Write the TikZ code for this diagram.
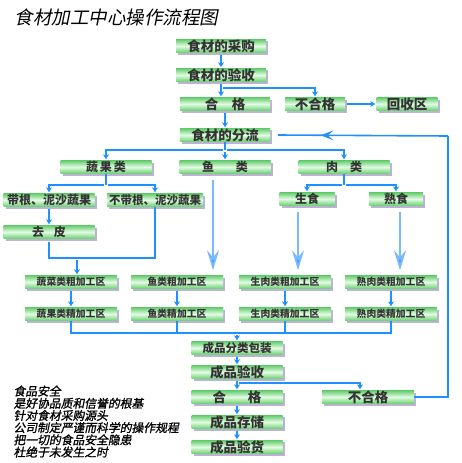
\documentclass[tikz,border=0pt]{standalone}
\usepackage{fontspec}
\setmainfont{Noto Sans CJK SC}
\newfontfamily\slantfont{Noto Sans CJK SC}[FakeSlant=0.2]
\newfontfamily\notefont{Noto Sans CJK SC}[FakeSlant=0.2, FakeBold=1.2]
\usetikzlibrary{arrows.meta,shadows,decorations.markings}
\definecolor{flowblue}{RGB}{30,144,255}
\definecolor{lightflow}{RGB}{120,185,255}
\definecolor{boxtop}{RGB}{100,205,110}
\definecolor{boxmid}{RGB}{228,251,228}
\definecolor{boxbot}{RGB}{105,210,110}
\definecolor{boxshadow}{RGB}{180,170,210}
\begin{document}
\begin{tikzpicture}[x=1pt, y=-1pt,
  box/.style={rectangle, minimum width=#1, minimum height=13pt, inner sep=0pt, text=black!80,
    top color=boxtop, bottom color=boxbot, middle color=boxmid,
    drop shadow={shadow xshift=2pt, shadow yshift=-2pt, fill=boxshadow, opacity=.9}},
  box/.default=90,
  big/.style={font=\bfseries\fontsize{13.5}{14}\selectfont},
  mid/.style={font=\bfseries\fontsize{12}{13}\selectfont},
  small/.style={font=\bfseries\fontsize{9.8}{10}\selectfont},
  flowline/.style={draw=flowblue, line width=1.6pt},
  arrow/.style={flowline, -{Stealth[length=5pt,width=6pt]}, shorten <=2pt, shorten >=1pt},
  bigarrow/.style={draw=lightflow, line width=2pt, -{Stealth[length=20pt,width=12pt,inset=7pt,fill=flowblue]}}
]
  \useasboundingbox (0,0) rectangle (462,463);

  \node[anchor=west, font=\slantfont\fontsize{18.5}{20}\selectfont] (title) at (11,17) {食材加工中心操作流程图};

  \node[box, big] (buy)     at (221,46)  {食材的采购};
  \node[box, big] (check)   at (221,75)  {食材的验收};
  \node[box, big] (ok1)     at (225,104) {合　格};
  \node[box=60, big] (nok1) at (315,104) {不合格};
  \node[box=61, big] (recycle) at (407,104) {回收区};
  \node[box, big] (split)   at (225,135) {食材的分流};

  \node[box=91, mid] (veg)  at (106,167) {蔬\,果\,类};
  \node[box=91, mid] (fish) at (225,167) {鱼\hspace{1.8em}类};
  \node[box=91, mid] (meat) at (344,167) {肉\hspace{1em}类};

  \node[box=91, mid] (root)   at (49,200)  {带根、泥沙蔬果};
  \node[box=96, font=\bfseries\fontsize{11.5}{12}\selectfont] (noroot) at (155,200) {不带根、泥沙蔬果};
  \node[box=55, mid] (raw)    at (307,199) {生食};
  \node[box=54, mid] (cooked) at (396,199) {熟食};
  \node[box=91, mid] (peel)   at (49,232)  {去\hspace{0.8em}皮};

  \node[box=92, small] (rv) at (71,282)  {蔬菜类粗加工区};
  \node[box=92, small] (rf) at (177,282) {鱼类粗加工区};
  \node[box=92, small] (rr) at (285,282) {生肉类粗加工区};
  \node[box=92, small] (rc) at (391,282) {熟肉类粗加工区};

  \node[box=92, small] (fv) at (71,314)  {蔬果类精加工区};
  \node[box=92, small] (ff) at (177,314) {鱼类精加工区};
  \node[box=92, small] (fr) at (285,314) {生肉类精加工区};
  \node[box=92, small] (fc) at (391,314) {熟肉类精加工区};

  \node[box=91, font=\bfseries\fontsize{11.5}{12}\selectfont] (pack) at (237,348) {成品分类包装};
  \node[box=91, big] (fcheck) at (237,372) {成品验收};
  \node[box=91, big] (ok2)    at (237,397) {合\hspace{1.6em}格};
  \node[box=92, big] (nok2)   at (368,397) {不合格};
  \node[box=91, big] (store)  at (237,422) {成品存储};
  \node[box=91, big] (ship)   at (237,447) {成品验货};

  \node[anchor=north west, align=left, font=\notefont\fontsize{11.8}{12.2}\selectfont] (note) at (10,382)
    {食品安全\\是好协品质和信誉的根基\\针对食材采购源头\\公司制定严谨而科学的操作规程\\把一切的食品安全隐患\\杜绝于未发生之时};

  \coordinate (b1) at (221,88);
  \coordinate (b2) at (225,150);
  \coordinate (b3) at (106,185);
  \coordinate (b4) at (344,185);
  \coordinate (b5) at (77,258);
  \coordinate (b6) at (237,333);
  \coordinate (b7) at (237,383);
  \coordinate (ret) at (448,136);

  \draw[arrow] (buy) -- (check);
  \draw[arrow] (check.south) -- (check.south |- ok1.north);
  \draw[arrow] (b1) -| (nok1.north);
  \draw[arrow] (nok1) -- (recycle);
  \draw[arrow] (ok1) -- (split);

  \draw[flowline] (split.south) -- (b2);
  \draw[arrow] (b2) -| (veg.north);
  \draw[arrow] (b2) -- (fish.north);
  \draw[arrow] (b2) -| (meat.north);

  \draw[flowline] (veg.south) -- (b3);
  \draw[arrow] (b3) -| (root.north);
  \draw[arrow] (b3) -| (noroot.north);
  \draw[flowline] (meat.south) -- (b4);
  \draw[arrow] (b4) -| (raw.north);
  \draw[arrow] (b4) -| (cooked.north);

  \draw[arrow] (root) -- (peel);
  \draw[flowline] ([yshift=-3pt]peel.south) |- (noroot.south |- b5) -- (noroot.south);
  \draw[arrow] (b5) -- (b5 |- rv.north);

  \draw[bigarrow] ([shift={(-12,6)}]fish.south) -- ([shift={(-12,-5)}]fish.south |- rf.north);
  \draw[bigarrow] ([shift={(-9,6)}]raw.south) -- ([shift={(-9,-5)}]raw.south |- rr.north);
  \draw[bigarrow] ([shift={(4,6)}]cooked.south) -- ([shift={(4,-5)}]cooked.south |- rc.north);

  \draw[arrow] (rv) -- (fv);
  \draw[arrow] (rf) -- (ff);
  \draw[arrow] (rr) -- (fr);
  \draw[arrow] (rc) -- (fc);

  \draw[flowline] (fv.south) |- (b6);
  \draw[flowline] (ff.south) |- (b6);
  \draw[flowline] (fr.south) |- (b6);
  \draw[flowline] (fc.south) |- (b6);
  \draw[arrow] (b6) -- (pack);
  \draw[arrow] (pack) -- (fcheck);

  \draw[arrow] (fcheck) -- (ok2);
  \draw[arrow] (b7) -| ([xshift=-8pt]nok2.north);
  \draw[arrow] (ok2) -- (store);
  \draw[arrow] (store) -- (ship);

  \draw[flowline] (nok2.east) -| (ret);
  \draw[flowline, postaction={decorate}, decoration={markings, mark=at position 0.75 with {\arrow{Stealth[length=13pt,width=10pt,inset=6pt]}}}]
    (ret) -- ([xshift=8pt]split.east);
\end{tikzpicture}
\end{document}
